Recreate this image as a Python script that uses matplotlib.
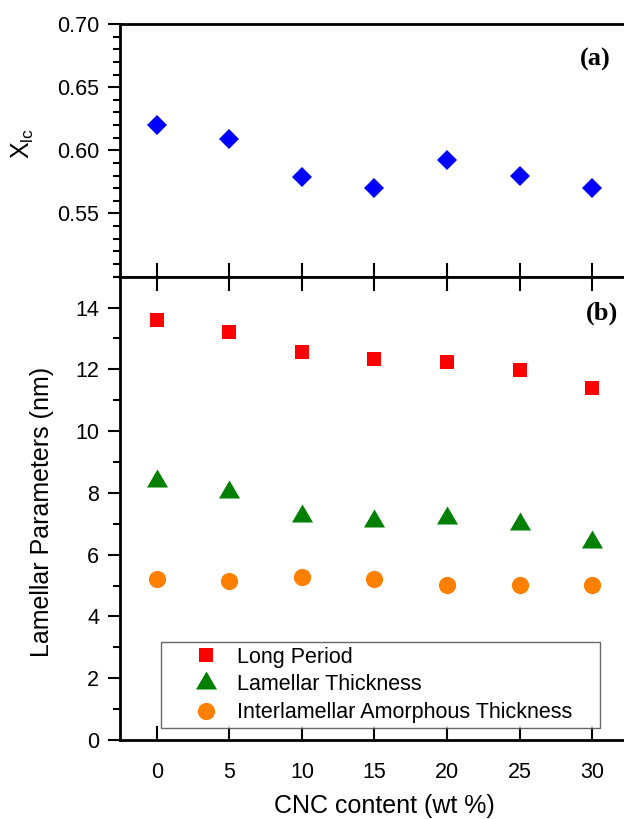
import numpy as np
import matplotlib.pyplot as plt
from matplotlib.ticker import MultipleLocator, FormatStrFormatter

plt.rcParams['font.family'] = ['Liberation Sans', 'DejaVu Sans']
plt.rcParams['mathtext.fontset'] = 'custom'
plt.rcParams['mathtext.rm'] = 'Liberation Sans'
plt.rcParams['mathtext.it'] = 'Liberation Sans:italic'

cnc = [0, 5, 10, 15, 20, 25, 30]
xlc = [0.620, 0.609, 0.579, 0.570, 0.592, 0.580, 0.570]
long_period = [13.61, 13.20, 12.56, 12.32, 12.24, 11.97, 11.38]
lamellar = [8.40, 8.03, 7.26, 7.09, 7.19, 6.99, 6.40]
amorphous = [5.20, 5.15, 5.29, 5.20, 5.01, 5.01, 5.01]
names = ['Long Period', 'Lamellar Thickness', 'Interlamellar Amorphous Thickness']

# triangle with the centroid on the point, like Origin draws it
tri = [(0, 12), (-10.5, -6), (10.5, -6)]

fig = plt.figure(figsize=(6.24, 8.19), dpi=100)
ax1 = fig.add_axes([0.1931, 0.6622, 0.8139, 0.3085])
ax2 = fig.add_axes([0.1931, 0.0965, 0.8139, 0.5657])

ax1.plot(cnc, xlc, ls='none', marker='D', ms=10, mew=0, color='#0000ff')
ax2.plot(cnc, long_period, ls='none', marker='s', ms=10.5, mew=0, color='#ff0000', label=names[0])
ax2.plot(cnc, lamellar, ls='none', marker=tri, ms=17.3, mew=0, color='#008000', label=names[1])
ax2.plot(cnc, amorphous, ls='none', marker='o', ms=12.4, mew=0, color='#ff8000', label=names[2])

for ax in (ax1, ax2):
	ax.set_xlim(-2.5, 32.5)
	ax.set_xticks(cnc)
	ax.spines['right'].set_visible(False)
	for s in ('left', 'top', 'bottom'):
		ax.spines[s].set_linewidth(2)
	ax.tick_params(axis='x', direction='in', length=10, width=1.5, labelsize=15.5, pad=16)
	ax.tick_params(axis='y', which='major', direction='out', length=8.4, width=1.5, labelsize=15.5, pad=7)
	ax.tick_params(axis='y', which='minor', direction='out', length=4.8, width=1.5)
	ax.tick_params(right=False)

# (a) crystallinity
ax1.set_ylim(0.50, 0.70)
ax1.set_yticks([0.55, 0.60, 0.65, 0.70])
ax1.yaxis.set_minor_locator(MultipleLocator(0.01))
ax1.yaxis.set_major_formatter(FormatStrFormatter('%.2f'))
ax1.tick_params(axis='x', labelbottom=False)
ax1.set_ylabel(r'X$_{\mathrm{lc}}$', fontsize=18, va='center')
ax1.yaxis.set_label_coords(-0.192, 0.527)
ax1.text(30.2, 0.672, '(a)', fontfamily='Liberation Serif', fontweight='bold',
	fontsize=19, ha='center', va='center')

# (b) lamellar parameters
ax2.set_ylim(0, 15)
ax2.set_yticks([0, 2, 4, 6, 8, 10, 12, 14])
ax2.yaxis.set_minor_locator(MultipleLocator(1))
ax2.tick_params(axis='x', top=True)
ax2.set_ylabel('Lamellar Parameters (nm)', fontsize=18, va='center')
ax2.yaxis.set_label_coords(-0.1536, 0.492)
ax2.set_xlabel('CNC content (wt %)', fontsize=18, va='center')
ax2.xaxis.set_label_coords(0.519, -0.142)
ax2.text(30.7, 13.82, '(b)', fontfamily='Liberation Serif', fontweight='bold',
	fontsize=19, ha='center', va='center')

leg = ax2.legend(loc='lower left', bbox_to_anchor=(0.079, 0.0265, 0.866, 0.2), mode='expand',
	fontsize=15.5, fancybox=False, edgecolor='#444444', borderpad=0.2, handlelength=3.78,
	handletextpad=-0.42, labelspacing=0.32, borderaxespad=0)
leg.get_frame().set_linewidth(1.0)

fig.savefig('out.png', dpi=100)
